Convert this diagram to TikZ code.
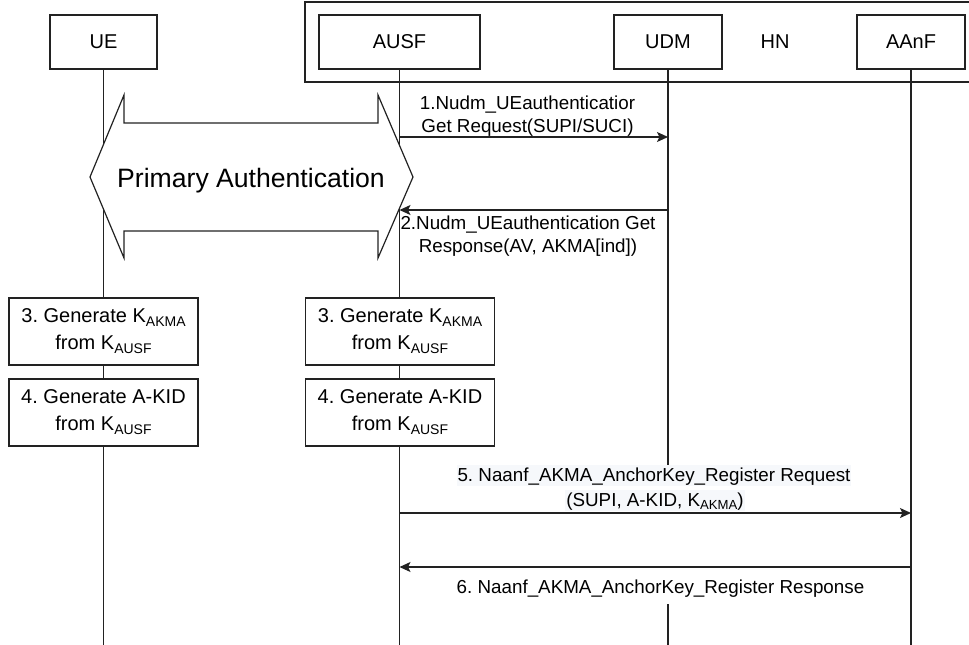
\documentclass[tikz,border=0pt]{standalone}
\usepackage{graphicx}
\usepackage{fontspec}
\setmainfont{Liberation Sans}
\usetikzlibrary{arrows.meta}
\frenchspacing
\definecolor{linec}{HTML}{222222}
\definecolor{lblbg}{HTML}{F6F8FB}
\newcommand{\ksub}[1]{K\raisebox{-0.2em}{\scalebox{0.7}{#1}}}
\newcommand{\drawsteps}[2]{
    % Key derivation boxes on one lifeline
    \node[stepbox] (kakma#2) at (#1,331.5) {3. Generate \ksub{AKMA}\\from \ksub{AUSF}};
    \node[stepbox] (akid#2) at (#1,412.5) {4. Generate A-KID\\from \ksub{AUSF}};
}
\tikzset{
    entity/.style={draw=linec, line width=1.2pt, fill=white, minimum height=54pt, inner sep=0pt, font=\fontsize{20}{24}\selectfont},
    stepbox/.style={draw=linec, line width=1.2pt, fill=white, minimum width=189pt, minimum height=67pt, inner sep=0pt, align=center, font=\fontsize{20}{27}\selectfont},
    lifeline/.style={draw=linec, line width=1.2pt},
    msg/.style={lifeline, -{Stealth[length=11pt, width=10pt, inset=2.5pt]}},
    msglbl/.style={inner sep=0pt, align=center, font=\fontsize{18.8}{22.5}\selectfont},
    lblfill/.style={fill=lblbg, text height=16pt, text depth=5pt, inner xsep=1pt},
}

\begin{document}
\begin{tikzpicture}[x=1pt, y=-1pt]
    \useasboundingbox (0,0) rectangle (969,645);

    % Home network frame
    \draw[linec, line width=1.2pt] (305,2) rectangle (975,82);
    \node[font=\fontsize{20}{24}\selectfont] (hn) at (775,42) {HN};

    % Nodes
    \node[entity, minimum width=107pt] (ue) at (103.5,42) {UE};
    \node[entity, minimum width=161pt] (ausf) at (399.5,42) {AUSF};
    \node[entity, minimum width=108pt] (udm) at (668,42) {UDM};
    \node[entity, minimum width=108pt] (aanf) at (911,42) {AAnF};

    % Message labels (base = last line)
    \node[msglbl, anchor=base] (req1) at (527.5,132) {1.Nudm\_UEauthenticatior\\Get Request(SUPI/SUCI)};
    \node[msglbl, anchor=base] (resp2) at (528,252) {2.Nudm\_UEauthentication Get\\Response(AV, AKMA[ind])};
    \node[msglbl, lblfill, anchor=base] (reqa) at (654,481) {5. Naanf\_AKMA\_AnchorKey\_Register Request};
    \node[msglbl, lblfill, anchor=base] (reqb) at (655,506) {(SUPI, A-KID, \ksub{AKMA})};
    \node[msglbl, fill=white, text height=16pt, text depth=5pt, anchor=base] (resp6) at (660.5,593.3) {6. Naanf\_AKMA\_AnchorKey\_Register Response};

    % Lifelines
    \coordinate (bottom) at (0,645);
    \coordinate (udmgap) at (668,604);
    \draw[lifeline] (ue.south) -- (ue.south |- bottom);
    \draw[lifeline] (ausf.south) -- (ausf.south |- bottom);
    \draw[lifeline] (udm.south) -- (udm.south |- reqa.north);
    \draw[lifeline] (udmgap) -- (udmgap |- bottom);
    \draw[lifeline] (aanf.south) -- (aanf.south |- bottom);

    % Steps 3 and 4
    \drawsteps{103.5}{ue}
    \drawsteps{400}{ausf}

    % Primary authentication
    \draw[linec, line width=1.2pt, fill=white] (90,177) -- (124,95) -- (124,123) -- (378,123) -- (378,95) -- (413,177)
        -- (378,258) -- (378,231) -- (124,231) -- (124,258) -- cycle;
    \node[font=\fontsize{26.6}{30}\selectfont, anchor=base] (pa) at (251,187.3) {Primary Authentication};

    % Edges
    \coordinate (m1) at (0,137);
    \coordinate (m2) at (0,210);
    \coordinate (m5) at (0,513);
    \coordinate (m6) at (0,567);
    \draw[msg] (ausf |- m1) -- (udm |- m1);
    \draw[msg] (udm |- m2) -- (ausf |- m2);
    \draw[msg] (ausf |- m5) -- (aanf |- m5);
    \draw[msg] (aanf |- m6) -- (ausf |- m6);
\end{tikzpicture}
\end{document}
